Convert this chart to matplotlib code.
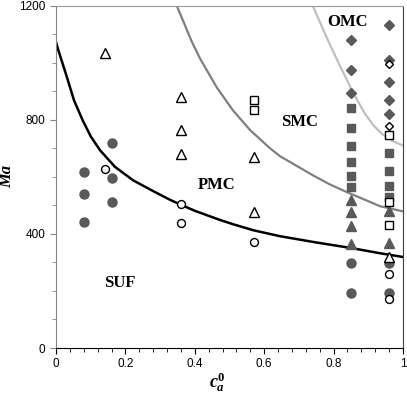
import matplotlib
matplotlib.use('Agg')
import matplotlib.pyplot as plt
from matplotlib.ticker import MultipleLocator, FuncFormatter

plt.rcParams['mathtext.fontset'] = 'custom'
plt.rcParams['mathtext.it'] = 'Liberation Serif:italic:bold'
plt.rcParams['mathtext.rm'] = 'Liberation Serif:bold'

# 边界曲线
black_x = [0.0, 0.007, 0.03, 0.052, 0.077, 0.1, 0.127, 0.17, 0.222, 0.28, 0.331, 0.357,
           0.4, 0.47, 0.51, 0.568, 0.645, 0.75, 0.853, 0.93, 1.0]
black_y = [1072, 1043, 955, 868, 798, 742, 693, 635, 588, 550, 518, 504,
           481, 450, 434, 413, 392, 370, 350, 333, 319]
dgray_x = [0.348, 0.391, 0.415, 0.463, 0.51, 0.56, 0.617, 0.646, 0.741, 0.79, 0.839, 0.934, 1.0]
dgray_y = [1200, 1075, 1015, 914, 833, 763, 700, 672, 605, 573, 546, 497, 479]
lgray_x = [0.74, 0.765, 0.79, 0.82, 0.847, 0.87, 0.89, 0.915, 0.94, 0.97, 1.0]
lgray_y = [1200, 1130, 1062, 985, 918, 865, 822, 780, 750, 725, 710]

# 实验点
fcirc_x = [0.08, 0.08, 0.08, 0.16, 0.16, 0.16, 0.85, 0.85, 0.96, 0.96]
fcirc_y = [616, 540, 441, 717, 595, 511, 297, 192, 297, 192]
ocirc_x = [0.14, 0.36, 0.36, 0.57, 0.96, 0.96]
ocirc_y = [629, 504, 437, 371, 259, 172]
otri_x = [0.14, 0.36, 0.36, 0.36, 0.57, 0.57, 0.96]
otri_y = [1033, 879, 763, 679, 669, 476, 318]
ftri_x = [0.85, 0.85, 0.85, 0.85, 0.96, 0.96]
ftri_y = [518, 476, 427, 364, 479, 368]
fsq_x = [0.85, 0.85, 0.85, 0.85, 0.85, 0.85, 0.96, 0.96, 0.96, 0.96]
fsq_y = [843, 770, 707, 651, 602, 564, 682, 619, 567, 528]
osq_x = [0.57, 0.57, 0.96, 0.96, 0.96]
osq_y = [871, 833, 747, 512, 430]
fdia_x = [0.85, 0.85, 0.85, 0.96, 0.96, 0.96, 0.96, 0.96]
fdia_y = [1081, 973, 893, 1134, 1011, 934, 871, 822]
odia_x = [0.96, 0.96]
odia_y = [995, 780]

fill = '#595959'

fig = plt.figure(figsize=(4.07, 3.93), dpi=100)
ax = fig.add_axes([0.1376, 0.1145, 0.8526, 0.871])

ax.plot(lgray_x, lgray_y, color='#c0c0c0', lw=1.6, zorder=2)
ax.plot(dgray_x, dgray_y, color='#808080', lw=1.6, zorder=2)
ax.plot(black_x, black_y, color='black', lw=1.8, zorder=2)

ms = 6.5
ax.plot(fcirc_x, fcirc_y, 'o', color=fill, ms=ms, mec=fill, zorder=3)
ax.plot(ftri_x, ftri_y, '^', color=fill, ms=ms + 0.5, mec=fill, zorder=3)
ax.plot(fsq_x, fsq_y, 's', color=fill, ms=ms - 0.5, mec=fill, zorder=3)
ax.plot(fdia_x, fdia_y, 'D', color=fill, ms=ms - 1.5, mec=fill, zorder=3)
ax.plot(ocirc_x, ocirc_y, 'o', mfc='white', mec='black', mew=1.0, ms=ms - 0.8, zorder=4)
ax.plot(otri_x, otri_y, '^', mfc='white', mec='black', mew=1.0, ms=ms, zorder=4)
ax.plot(osq_x, osq_y, 's', mfc='white', mec='black', mew=1.0, ms=ms - 1, zorder=4)
ax.plot(odia_x, odia_y, 'D', mfc='white', mec='black', mew=1.0, ms=ms - 2, zorder=4)

region_font = dict(family='Liberation Serif', weight='bold', fontsize=12, ha='center', va='center')
ax.text(0.184, 227, 'SUF', **region_font)
ax.text(0.464, 570, 'PMC', **region_font)
ax.text(0.703, 791, 'SMC', **region_font)
ax.text(0.841, 1144, 'OMC', **region_font)

ax.set_xlim(0, 1)
ax.set_ylim(0, 1200)
ax.xaxis.set_major_locator(MultipleLocator(0.2))
ax.xaxis.set_minor_locator(MultipleLocator(0.04))
ax.yaxis.set_major_locator(MultipleLocator(400))
ax.yaxis.set_minor_locator(MultipleLocator(100))
ax.xaxis.set_major_formatter(FuncFormatter(lambda v, p: f'{v:g}'))
ax.tick_params(which='both', direction='out', labelsize=8.5)
ax.tick_params(which='major', length=4)
ax.tick_params(which='minor', length=3)
ax.tick_params(axis='y', which='both', color='#868686')
for lab in ax.get_xticklabels() + ax.get_yticklabels():
    lab.set_family('Liberation Sans')

ax.spines['left'].set_color('#868686')
ax.spines['top'].set_color('#999999')
ax.spines['right'].set_color('#404040')
ax.spines['bottom'].set_color('black')

ax.set_xlabel(r'$c_a^{0}$', fontsize=13)
ax.xaxis.set_label_coords(0.466, -0.064)
ax.set_ylabel('Ma', family='Liberation Serif', weight='bold', style='italic', fontsize=12)
ax.yaxis.set_label_coords(-0.118, 0.5)

fig.savefig('out.png', dpi=100)
